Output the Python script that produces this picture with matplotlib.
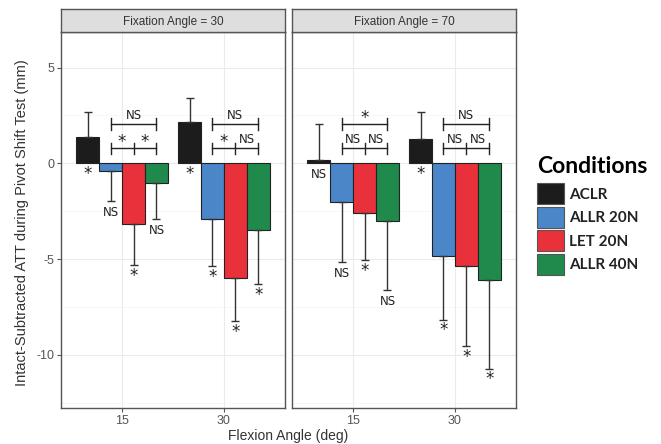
import numpy as np
import matplotlib
matplotlib.use("Agg")
import matplotlib.pyplot as plt
from matplotlib.patches import Patch

plt.rcParams['font.family'] = ['Liberation Sans', 'DejaVu Sans']

# data
conditions = ['ACLR', 'ALLR 20N', 'LET 20N', 'ALLR 40N']
colors = ['#1c1c1c', '#4a86c8', '#e8313a', '#1f8a4c']
flexion = ['15', '30']
fixation = ['30', '70']

means = {
    '30': [[1.37, -0.38, -3.19, -1.03], [2.16, -2.90, -5.97, -3.50]],
    '70': [[0.15, -2.04, -2.60, -3.00], [1.27, -4.86, -5.38, -6.07]],
}
sds = {
    '30': [[1.29, 1.59, 2.14, 1.87], [1.27, 2.48, 2.26, 2.82]],
    '70': [[1.89, 3.11, 2.47, 3.63], [1.39, 3.30, 4.14, 4.65]],
}
# significance vs intact, under each bar
sig = {
    '30': [['*', 'NS', '*', 'NS'], ['*', '*', '*', '*']],
    '70': [['NS', 'NS', '*', 'NS'], ['*', '*', '*', '*']],
}
# brackets between ALLR 20N / LET 20N / ALLR 40N : (outer, left pair, right pair)
brackets = {
    '30': [('NS', '*', '*'), ('NS', '*', 'NS')],
    '70': [('*', 'NS', 'NS'), ('NS', 'NS', 'NS')],
}

W, H = 661, 444
fig = plt.figure(figsize=(W / 100, H / 100), dpi=100)

def box(x0, y0, x1, y1):
    return [x0 / W, 1 - y1 / H, (x1 - x0) / W, (y1 - y0) / H]

def mark(ax, x, y, s, va):
    # asterisks are drawn a bit larger, like in the original
    if s == '*':
        ax.text(x, y - (0.25 if va == 'bottom' else -0.15), s, ha='center', va=va,
                fontsize=12, color=txt_col, zorder=4, family='DejaVu Sans')
    else:
        ax.text(x, y, s, ha='center', va=va, fontsize=8.5, color=txt_col, zorder=4,
                family='DejaVu Sans')

panels = [(61, 285), (292, 516)]
top, bot, strip_top = 32, 408, 9
bw = 0.9 / 4
offs = (np.arange(4) - 1.5) * bw
txt_col = '#222222'

for k, fx in enumerate(fixation):
    x0, x1 = panels[k]
    ax = fig.add_axes(box(x0, top, x1, bot))
    sax = fig.add_axes(box(x0, strip_top, x1, top))
    sax.set_facecolor('#dedede')
    sax.set_xticks([]); sax.set_yticks([])
    for s in sax.spines.values():
        s.set_color('#555555'); s.set_linewidth(1.0)
    sax.text(0.5, 0.42, 'Fixation Angle = ' + fx, ha='center', va='center',
             fontsize=8.5, color='#333333', transform=sax.transAxes)

    ax.set_xlim(0.4, 2.6)
    ax.set_ylim(-12.78, 6.86)
    ax.set_yticks([-10, -5, 0, 5])
    ax.set_yticks([-12.5, -7.5, -2.5, 2.5], minor=True)
    ax.set_xticks([1, 2])
    ax.set_xticklabels(flexion)
    ax.grid(True, which='major', color='#ebebeb', lw=0.8)
    ax.grid(True, which='minor', axis='y', color='#f4f4f4', lw=0.5)
    ax.set_axisbelow(True)
    for s in ax.spines.values():
        s.set_color('#555555'); s.set_linewidth(1.0)
    ax.tick_params(colors='#555555', labelcolor='#555555', labelsize=9,
                   length=3, width=0.8, which='major', pad=2)
    ax.tick_params(which='minor', length=0)
    if k == 0:
        ax.set_yticklabels(['-10', '-5', '0', '5'])
    else:
        ax.tick_params(labelleft=False, left=False)

    for g in range(2):
        m = np.array(means[fx][g])
        sd = np.array(sds[fx][g])
        xs = g + 1 + offs
        ax.bar(xs, m, width=bw, color=colors, edgecolor='#222222', lw=0.8, zorder=2)
        ends = np.where(m >= 0, m + sd, m - sd)
        ax.errorbar(xs, m, yerr=[np.where(m < 0, sd, 0), np.where(m >= 0, sd, 0)],
                    fmt='none', ecolor='#333333', elinewidth=1.0, capsize=3,
                    capthick=1.0, zorder=3)
        for i in range(4):
            low = 0 if m[i] >= 0 else ends[i]
            mark(ax, xs[i], low - 0.25, sig[fx][g][i], 'top')
        # brackets
        outer, lp, rp = brackets[fx][g]
        xa, xb, xc = xs[1], xs[2], xs[3]
        y_up, y_lo = 2.05, 0.78
        ax.plot([xa, xc], [y_up, y_up], color='#222222', lw=1.0, zorder=4)
        ax.plot([xa, xc], [y_lo, y_lo], color='#222222', lw=1.0, zorder=4)
        for xx in (xa, xc):
            ax.plot([xx, xx], [y_up - 0.3, y_up + 0.3], color='#222222', lw=1.0, zorder=4)
        for xx in (xa, xb, xc):
            ax.plot([xx, xx], [y_lo - 0.3, y_lo + 0.3], color='#222222', lw=1.0, zorder=4)
        mark(ax, (xa + xc) / 2, y_up + 0.12, outer, 'bottom')
        mark(ax, (xa + xb) / 2, y_lo + 0.12, lp, 'bottom')
        mark(ax, (xb + xc) / 2, y_lo + 0.12, rp, 'bottom')

fig.text(288 / W, 1 - 436 / H, 'Flexion Angle (deg)', ha='center', va='center',
         fontsize=10, color='#333333')
fig.text(22 / W, 1 - 223 / H, 'Intact-Subtracted ATT during Pivot Shift Test (mm)',
         ha='center', va='center', rotation=90, fontsize=10.5, color='#333333')

handles = [Patch(facecolor=c, edgecolor='#555555', lw=0.8) for c in colors]
leg = fig.legend(handles, conditions, title='Conditions', loc='upper left',
                 bbox_to_anchor=(531 / W, 1 - 150 / H), frameon=False,
                 prop={'size': 11, 'weight': 'bold', 'family': 'Lato'},
                 handlelength=1.75, handleheight=1.75, labelspacing=0.15,
                 handletextpad=0.35, borderaxespad=0)
leg.get_title().set_fontsize(16.5)
leg.get_title().set_fontweight('bold')
leg.get_title().set_family('Lato')
leg._legend_box.align = 'left'
leg._legend_box.sep = 4.5
for t in leg.get_texts():
    t.set_color('#222222')

fig.savefig('out.png', dpi=100)
